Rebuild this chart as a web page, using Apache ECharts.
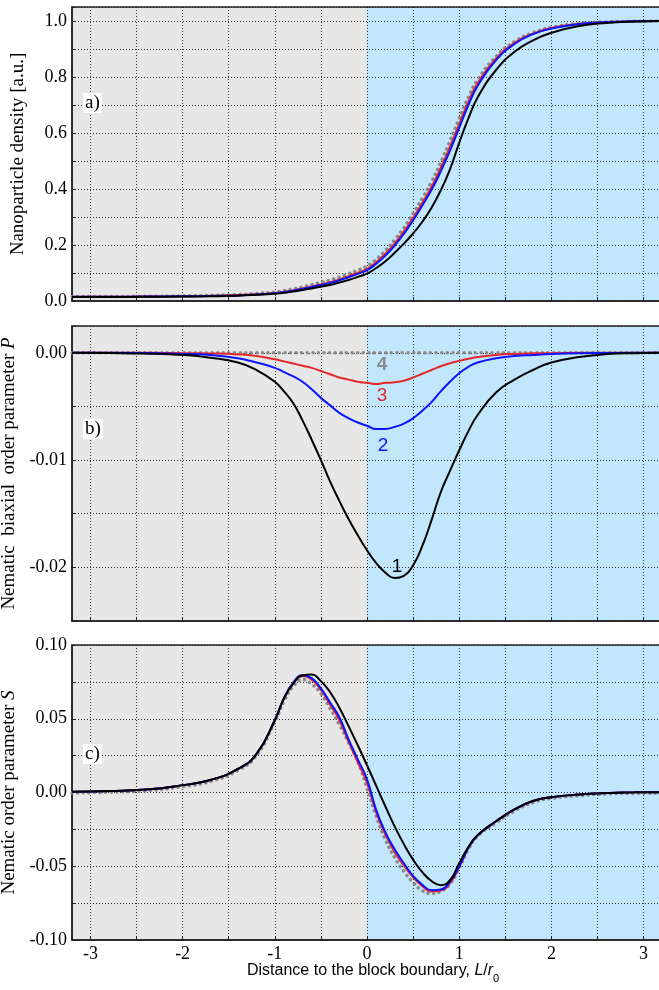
<!DOCTYPE html>
<html>
<head>
<meta charset="utf-8">
<script src="https://cdn.jsdelivr.net/npm/echarts@6/dist/echarts.min.js"></script>
<style>
html, body { margin: 0; padding: 0; background: #fff; }
#chart { width: 659px; height: 990px; }
</style>
</head>
<body>
<div id="chart"></div>
<script>
// distance to the block boundary, L/r0
var xs = [-3.2,-2.8,-2.4,-2.0,-1.7,-1.4,-1.2,-1.0,-0.9,-0.8,-0.7,-0.6,-0.5,-0.4,-0.3,-0.2,-0.1,0.0,
          0.1,0.2,0.3,0.4,0.5,0.6,0.7,0.8,0.9,1.0,1.1,1.2,1.4,1.6,1.8,2.0,2.3,2.6,2.9,3.2];

// a) nanoparticle density
var densBlack = [0.014,0.014,0.015,0.016,0.017,0.019,0.022,0.026,0.029,0.034,0.039,0.045,0.051,0.057,0.066,0.075,0.086,0.098,
                 0.118,0.142,0.172,0.205,0.241,0.283,0.333,0.395,0.47,0.565,0.652,0.727,0.825,0.89,0.931,0.958,0.982,0.993,0.998,1.0];
var densBlue  = [0.015,0.015,0.016,0.017,0.018,0.020,0.023,0.028,0.032,0.037,0.043,0.050,0.057,0.064,0.074,0.085,0.097,0.110,
                 0.133,0.162,0.198,0.240,0.288,0.341,0.397,0.463,0.537,0.618,0.70,0.768,0.86,0.918,0.953,0.973,0.989,0.996,0.999,1.0];
var densRed   = [0.015,0.015,0.016,0.017,0.019,0.021,0.024,0.029,0.033,0.038,0.045,0.052,0.059,0.067,0.077,0.089,0.101,0.115,
                 0.139,0.169,0.206,0.249,0.297,0.351,0.408,0.476,0.551,0.632,0.712,0.778,0.866,0.922,0.955,0.975,0.99,0.996,0.999,1.0];
var densGray  = [0.016,0.016,0.017,0.018,0.020,0.023,0.027,0.032,0.037,0.043,0.050,0.058,0.066,0.075,0.085,0.097,0.110,0.125,
                 0.149,0.180,0.218,0.262,0.312,0.367,0.426,0.495,0.572,0.652,0.728,0.79,0.873,0.926,0.958,0.977,0.991,0.997,0.999,1.0];

// b) nematic biaxial order parameter P
var biaxBlack = [0,-0.00002,-0.00007,-0.0002,-0.00045,-0.0009,-0.0016,-0.0027,-0.0036,-0.0047,-0.0063,-0.0081,-0.0100,-0.0120,-0.0138,-0.0155,-0.0170,-0.0184,
                 -0.0196,-0.0205,-0.0210,-0.0208,-0.0198,-0.0180,-0.0156,-0.0130,-0.0110,-0.0091,-0.0073,-0.0058,-0.0037,-0.0025,-0.0016,-0.0009,-0.0004,-0.00012,-0.00003,0];
var biaxBlue  = [0,0,-0.00003,-0.0001,-0.0002,-0.0005,-0.0009,-0.0014,-0.0018,-0.0022,-0.0027,-0.0034,-0.0042,-0.0049,-0.0056,-0.0061,-0.0065,-0.0068,
                 -0.0071,-0.0071,-0.0069,-0.0066,-0.0061,-0.0054,-0.0046,-0.0036,-0.0027,-0.0019,-0.0013,-0.0009,-0.0005,-0.0003,-0.0002,-0.00012,-0.00005,-0.00002,0,0];
var biaxRed   = [0,0,0,-0.00003,-0.00006,-0.00015,-0.0003,-0.0006,-0.0008,-0.001,-0.0012,-0.0014,-0.0017,-0.0020,-0.0023,-0.0025,-0.0027,-0.0028,
                 -0.0029,-0.0028,-0.00275,-0.0026,-0.0023,-0.00195,-0.0016,-0.00125,-0.00097,-0.00075,-0.00056,-0.0004,-0.0002,-0.0001,-0.00005,-0.00003,0,0,0,0];
var biaxGray  = [0,0,0,0,0,0,0,0,0,0,0,0,0,0,0,0,0,0,0,0,0,0,0,0,0,0,0,0,0,0,0,0,0,0,0,0,0,0];

// c) nematic order parameter S
var orderBlack = [0.0005,0.001,0.002,0.005,0.0085,0.016,0.026,0.049,0.064,0.0738,0.0795,0.0800,0.0755,0.068,0.0575,0.045,0.032,0.0185,
                  0.0045,-0.0095,-0.023,-0.035,-0.0455,-0.054,-0.060,-0.0628,-0.0595,-0.048,-0.037,-0.029,-0.0195,-0.0115,-0.0058,-0.0032,-0.0014,-0.0004,0.0001,0.0002];
var orderBlue  = [0.0005,0.001,0.002,0.005,0.0085,0.016,0.026,0.049,0.064,0.0745,0.0795,0.0775,0.0706,0.061,0.051,0.036,0.0225,0.009,
                  -0.012,-0.027,-0.0385,-0.048,-0.0565,-0.0625,-0.0663,-0.0658,-0.0605,-0.0503,-0.0375,-0.029,-0.0195,-0.0115,-0.0058,-0.0032,-0.0014,-0.0004,0.0001,0.0002];
var orderRed   = [0.0005,0.001,0.002,0.005,0.0085,0.016,0.026,0.049,0.064,0.0742,0.0788,0.0765,0.0695,0.0595,0.049,0.0345,0.0205,0.0065,
                  -0.0135,-0.0285,-0.0405,-0.0495,-0.0575,-0.0635,-0.0672,-0.0665,-0.0615,-0.0505,-0.0375,-0.029,-0.0195,-0.0115,-0.0058,-0.0032,-0.0014,-0.0004,0.0001,0.0002];
var orderGray  = [-0.0003,0.0002,0.0012,0.004,0.0075,0.015,0.025,0.048,0.062,0.072,0.0765,0.0735,0.067,0.057,0.046,0.034,0.021,0.003,
                  -0.016,-0.032,-0.044,-0.0535,-0.061,-0.0665,-0.0685,-0.067,-0.062,-0.051,-0.0385,-0.0295,-0.0205,-0.0125,-0.0068,-0.004,-0.0022,-0.001,-0.0006,-0.0005];

var curveNames = ['4', '3', '2', '1'];
var X_MIN = -3.2, X_MAX = 3.2, BOUNDARY = 0;

var SERIF = "'Liberation Serif', 'Times New Roman', serif";
var SANS = "'Liberation Sans', Arial, sans-serif";
var GRID_LINE = { color: '#333', width: 1, type: [1, 2] };

function pairs(ys) {
    return xs.map(function (x, i) { return [x, ys[i]]; });
}

var panels = [
    { top: 7, height: 294, yMin: 0, yMax: 1.05, step: 0.1, labelStep: 0.2, digits: 1,
      name: 'Nanoparticle density [a.u.]',
      data: [densGray, densRed, densBlue, densBlack] },
    { top: 326, height: 295, yMin: -0.025, yMax: 0.0025, step: 0.005, labelStep: 0.01, digits: 2,
      name: '{t|Nematic  biaxial  order parameter }{i|P}',
      data: [biaxGray, biaxRed, biaxBlue, biaxBlack] },
    { top: 645, height: 295, yMin: -0.1, yMax: 0.1, step: 0.025, labelStep: 0.05, digits: 2,
      name: '{t|Nematic order parameter }{i|S}',
      data: [orderGray, orderRed, orderBlue, orderBlack] }
];

// where the curve numbers sit in panel b (data units)
var labelSpots = [[0.163, -0.00115], [0.163, -0.0040], [0.175, -0.0087], [0.325, -0.0199]];

var lineStyles = [
    { color: '#8a8a8a', width: 3.5, type: [0.1, 5.5], cap: 'round' },
    { color: '#e2282c', width: 2 },
    { color: '#0a14ff', width: 2 },
    { color: '#000000', width: 2 }
];
var labelColors = ['#8a8a8a', '#e2282c', '#0a14ff', '#000000'];

var grids = [], xAxes = [], yAxes = [], series = [];

panels.forEach(function (p, gi) {
    grids.push({ show: true, z: 4, left: 72, width: 590, top: p.top, height: p.height,
                 containLabel: false, outerBoundsMode: 'none',
                 backgroundColor: 'transparent', borderColor: '#222', borderWidth: 1.5 });
    xAxes.push({
        type: 'value', gridIndex: gi, min: X_MIN, max: X_MAX, splitNumber: 13, z: 3,
        axisLine: { show: true, onZero: false, lineStyle: { color: '#222', width: 1.5 } },
        axisTick: { show: true, inside: true, length: 4, lineStyle: { color: '#222' } },
        splitLine: { show: true, lineStyle: GRID_LINE },
        axisLabel: {
            show: gi === 2, margin: 5, color: '#000', fontFamily: SERIF, fontSize: 18,
            formatter: function (v) { return Math.abs(v - Math.round(v)) < 1e-6 ? String(Math.round(v)) : ''; }
        }
    });
    yAxes.push({
        type: 'value', gridIndex: gi, min: p.yMin, max: p.yMax, interval: p.step, z: 3,
        name: p.name, nameLocation: 'middle', nameGap: 44, nameRotate: 90,
        nameTextStyle: {
            color: '#000', fontFamily: SERIF, fontSize: 19,
            rich: {
                t: { color: '#000', fontFamily: SERIF, fontSize: 19 },
                i: { color: '#000', fontFamily: SERIF, fontSize: 19, fontStyle: 'italic' }
            }
        },
        axisLine: { show: true, onZero: false, lineStyle: { color: '#222', width: 1.5 } },
        axisTick: { show: true, inside: true, length: 4, lineStyle: { color: '#222' } },
        splitLine: { show: true, lineStyle: GRID_LINE },
        axisLabel: {
            margin: 5, color: '#000', fontFamily: SERIF, fontSize: 18,
            formatter: function (v) {
                var k = v / p.labelStep;
                if (Math.abs(k - Math.round(k)) > 1e-6) return '';
                if (Math.abs(v) < 1e-9) v = 0;
                return v.toFixed(p.digits);
            }
        }
    });
    // block background: left half grey, right half blue
    series.push({
        type: 'line', xAxisIndex: gi, yAxisIndex: gi, data: [], silent: true, z: 1,
        markArea: {
            silent: true, z: 1,
            data: [
                [{ xAxis: X_MIN, itemStyle: { color: '#e7e7e7' } }, { xAxis: BOUNDARY }],
                [{ xAxis: BOUNDARY, itemStyle: { color: '#c2e7fc' } }, { xAxis: X_MAX }]
            ]
        }
    });
    p.data.forEach(function (ys, ci) {
        var s = {
            name: curveNames[ci], type: 'line', xAxisIndex: gi, yAxisIndex: gi,
            data: pairs(ys), showSymbol: false, smooth: 0.5, silent: true, z: 5 + ci,
            lineStyle: lineStyles[ci]
        };
        if (gi === 1) {
            s.markPoint = {
                silent: true, symbol: 'circle', symbolSize: 1,
                itemStyle: { color: 'rgba(0,0,0,0)' },
                label: {
                    show: true, position: 'inside', formatter: curveNames[ci],
                    color: labelColors[ci], fontFamily: SANS, fontSize: 19,
                    fontWeight: ci === 0 ? 'bold' : 'normal'
                },
                data: [{ coord: labelSpots[ci] }]
            };
        }
        series.push(s);
    });
});

var panelTag = function (txt, left, top) {
    return {
        type: 'text', left: left, top: top, z: 20,
        style: { text: txt, font: '19px ' + SERIF, fill: '#000', backgroundColor: '#fff', padding: [1, 2, 0, 2] }
    };
};

var option = {
    animation: false,
    backgroundColor: '#fff',
    grid: grids,
    xAxis: xAxes,
    yAxis: yAxes,
    series: series,
    graphic: [
        panelTag('a)', 83, 93),
        panelTag('b)', 83, 419),
        panelTag('c)', 83, 744),
        {
            type: 'text', left: 247, top: 963, z: 20,
            style: {
                text: '{n|Distance to the block boundary, }{i|L}{n|/}{i|r}{s|0}',
                rich: {
                    n: { fontFamily: SANS, fontSize: 16, fill: '#000', lineHeight: 26 },
                    i: { fontFamily: SANS, fontSize: 16, fill: '#000', fontStyle: 'italic', lineHeight: 26 },
                    s: { fontFamily: SANS, fontSize: 11, fill: '#000', lineHeight: 12, verticalAlign: 'bottom' }
                }
            }
        }
    ]
};

var chart = echarts.init(document.getElementById('chart'));
chart.setOption(option, true);
</script>
</body>
</html>
